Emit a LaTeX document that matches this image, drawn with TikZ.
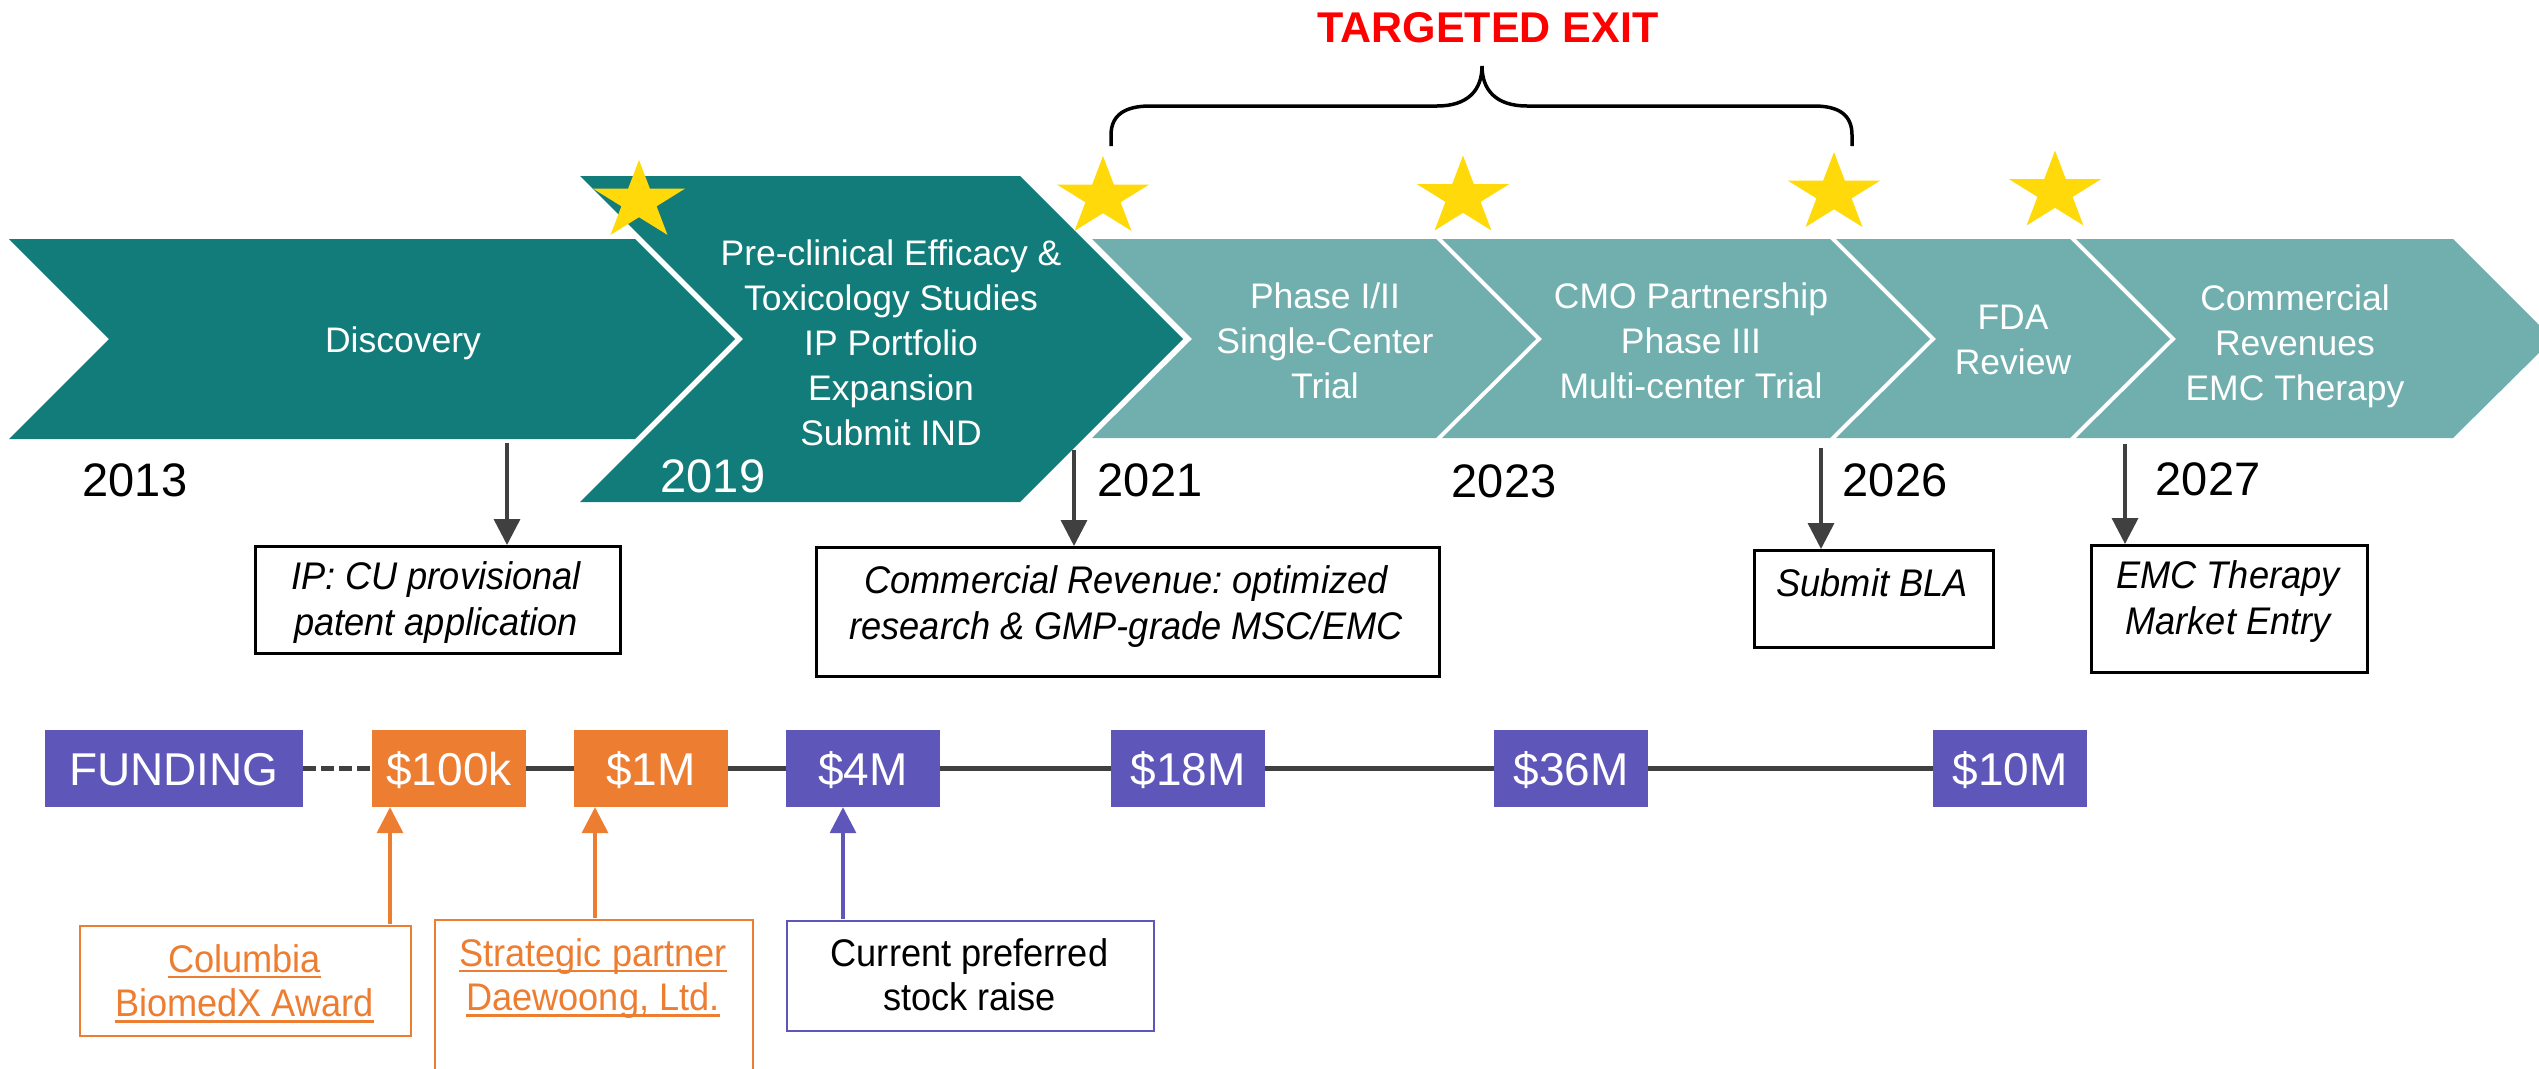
\documentclass[tikz,border=0pt]{standalone}
\usepackage{fontspec}
\setmainfont{Liberation Sans}
\newfontfamily\condfont[FakeStretch=0.94]{Liberation Sans}
\usetikzlibrary{arrows.meta}
\definecolor{darkteal}{HTML}{127C7A}
\definecolor{lightteal}{HTML}{71AFAF}
\definecolor{staryellow}{HTML}{FFD909}
\definecolor{fundpurple}{HTML}{5E56B9}
\definecolor{boxorange}{HTML}{ED7D31}
\definecolor{linegray}{HTML}{404040}
\definecolor{exitred}{HTML}{FF0000}
\frenchspacing
\newcommand{\mlines}[1]{\begin{tabular}[t]{@{}c@{}}#1\end{tabular}}
\newcommand{\orul}[1]{\setbox0\hbox{#1}\rlap{\color{boxorange}\rule[-6.4pt]{\wd0}{2.7pt}}\box0}
\newcommand{\goldstar}[2]{%
  \fill[staryellow,shift={(#1,#2)},yscale=0.855] (-90:48.4) -- (-54:18.5) -- (-18:48.4) -- (18:18.5) -- (54:48.4) -- (90:18.5) -- (126:48.4) -- (162:18.5) -- (198:48.4) -- (234:18.5) -- cycle;}
\begin{document}
\begin{tikzpicture}[x=1pt,y=-1pt,
  chevtext/.style={text=white, inner sep=0pt, anchor=base, font=\fontsize{35.5}{45}\selectfont},
  yeartext/.style={inner sep=0pt, anchor=base, font=\fontsize{47}{56}\selectfont},
  annbox/.style={draw=black, line width=2.5pt, inner sep=0pt, anchor=north west},
  anntext/.style={inner sep=0pt, anchor=base, font=\condfont\itshape\fontsize{38.5}{46}\selectfont},
  fundbox/.style={inner sep=0pt, minimum height=77pt, minimum width=154pt, text=white, font=\fontsize{46}{50}\selectfont, text height=33pt, text depth=0pt},
  fundline/.style={draw=linegray, line width=4.5pt},
  darrow/.style={draw=linegray, line width=3.5pt, -{Triangle[length=26pt,width=26pt]}},
  orarrow/.style={draw=boxorange, line width=3.5pt, -{Triangle[length=26pt,width=26pt]}},
  purarrow/.style={draw=fundpurple, line width=3.5pt, -{Triangle[length=26pt,width=26pt]}},
  orbox/.style={draw=boxorange, line width=2pt, inner sep=0pt, anchor=north west},
  purbox/.style={draw=fundpurple, line width=2pt, inner sep=0pt, anchor=north west},
  ftext/.style={inner sep=0pt, anchor=base, font=\condfont\fontsize{38.5}{44.5}\selectfont}
]
\useasboundingbox (0,0) rectangle (2539,1068);

% chevrons
\fill[darkteal] (9,239) -- (635,239) -- (735,339) -- (635,439) -- (9,439) -- (109,339) -- cycle;
\fill[darkteal] (580,176) -- (1020,176) -- (1183,339) -- (1020,502) -- (580,502) -- (743,339) -- cycle;
\fill[lightteal] (1092,239) -- (1436,239) -- (1536,339) -- (1436,438) -- (1092,438) -- (1192,339) -- cycle;
\fill[lightteal] (1442,239) -- (1830,239) -- (1930,339) -- (1830,438) -- (1442,438) -- (1542,339) -- cycle;
\fill[lightteal] (1836,239) -- (2070,239) -- (2170,339) -- (2070,438) -- (1836,438) -- (1936,339) -- cycle;
\fill[lightteal] (2076,239) -- (2453,239) -- (2553,339) -- (2453,438) -- (2076,438) -- (2176,339) -- cycle;

% chevron texts
\node[chevtext] (tdisc) at (403,352) {Discovery};
\node[chevtext] (tpre) at (891,265) {\mlines{Pre-clinical Efficacy \&\\Toxicology Studies\\IP Portfolio\\Expansion\\Submit IND}};
\node[chevtext] (tph) at (1325,308) {\mlines{Phase I/II\\Single-Center\\Trial}};
\node[chevtext] (tcmo) at (1691,308) {\mlines{CMO Partnership\\Phase III\\Multi-center Trial}};
\node[chevtext] (tfda) at (2013,329) {\mlines{FDA\\Review}};
\node[chevtext] (tcom) at (2295,310) {\mlines{Commercial\\Revenues\\EMC Therapy}};

% stars
\goldstar{639}{201.4}
\goldstar{1103}{197.4}
\goldstar{1463}{197}
\goldstar{1834}{193.5}
\goldstar{2055}{192}

% brace and title
\draw[black, line width=3.5pt] (1111,146) -- (1111,135) .. controls (1111,115) and (1125,106) .. (1150,106) -- (1437,106) .. controls (1468,106) and (1482,90) .. (1482,66) .. controls (1482,90) and (1496,106) .. (1527,106) -- (1814,106) .. controls (1839,106) and (1852,115) .. (1852,135) -- (1852,146);
\node[inner sep=0pt, anchor=base, text=exitred, font=\bfseries\fontsize{43}{50}\selectfont] (exit) at (1488,42) {TARGETED EXIT};

% years
\node[yeartext] (y2013) at (135,496) {2013};
\node[yeartext, text=white] (y2019) at (713,492) {2019};
\node[yeartext] (y2021) at (1150,496) {2021};
\node[yeartext] (y2023) at (1504,497) {2023};
\node[yeartext] (y2026) at (1895,496) {2026};
\node[yeartext] (y2027) at (2208,495) {2027};

% milestone boxes
\node[annbox, minimum width=365pt, minimum height=107pt] (ipbox) at (254,545) {};
\node[annbox, minimum width=623pt, minimum height=129pt] (crbox) at (815,546) {};
\node[annbox, minimum width=239pt, minimum height=97pt] (blabox) at (1753,549) {};
\node[annbox, minimum width=276pt, minimum height=127pt] (emcbox) at (2090,544) {};
\node[anntext] (iptext) at (436,589) {\mlines{IP: CU provisional\\patent application}};
\node[anntext] (crtext) at (1126,593) {\mlines{Commercial Revenue: optimized\\research \& GMP-grade MSC/EMC}};
\node[anntext] (blatext) at (1872,596) {Submit BLA};
\node[anntext] (emctext) at (2228,588) {\mlines{EMC Therapy\\Market Entry}};

% milestone arrows
\coordinate (a1) at (507,443);
\coordinate (a2) at (1074,450);
\coordinate (a3) at (1821,448);
\coordinate (a4) at (2125,444);
\draw[darrow] (a1) -- (a1 |- ipbox.north);
\draw[darrow] (a2) -- (a2 |- crbox.north);
\draw[darrow] (a3) -- (a3 |- blabox.north);
\draw[darrow] (a4) -- (a4 |- emcbox.north);

% funding row
\node[fundbox, fill=fundpurple, minimum width=258pt] (fund) at (174,768.5) {FUNDING};
\node[fundbox, fill=boxorange] (f100k) at (449,768.5) {\$100k};
\node[fundbox, fill=boxorange] (f1m) at (651,768.5) {\$1M};
\node[fundbox, fill=fundpurple] (f4m) at (863,768.5) {\$4M};
\node[fundbox, fill=fundpurple] (f18m) at (1188,768.5) {\$18M};
\node[fundbox, fill=fundpurple] (f36m) at (1571,768.5) {\$36M};
\node[fundbox, fill=fundpurple] (f10m) at (2010,768.5) {\$10M};
\draw[fundline, dash pattern=on 13pt off 5pt] (fund.east) -- (f100k.west);
\draw[fundline] (f100k.east) -- (f1m.west);
\draw[fundline] (f1m.east) -- (f4m.west);
\draw[fundline] (f4m.east) -- (f18m.west);
\draw[fundline] (f18m.east) -- (f36m.west);
\draw[fundline] (f36m.east) -- (f10m.west);

% funding annotations
\node[orbox, minimum width=331pt, minimum height=110pt] (colbox) at (79,925) {};
\node[orbox, minimum width=318pt, minimum height=200pt] (stratbox) at (434,919) {};
\node[purbox, minimum width=367pt, minimum height=110pt] (curbox) at (786,920) {};
\node[ftext, text=boxorange] (coltext) at (244.5,972) {\mlines{\orul{Columbia}\\\orul{BiomedX Award}}};
\node[ftext, text=boxorange] (strattext) at (593,966) {\mlines{\orul{Strategic partner}\\\orul{Daewoong, Ltd.}}};
\node[ftext] (curtext) at (969.5,966) {\mlines{Current preferred\\stock raise}};
\coordinate (b1) at (390,924);
\coordinate (b2) at (595,918);
\coordinate (b3) at (843,919);
\draw[orarrow] (b1) -- (b1 |- f100k.south);
\draw[orarrow] (b2) -- (b2 |- f1m.south);
\draw[purarrow] (b3) -- (b3 |- f4m.south);
\end{tikzpicture}
\end{document}
